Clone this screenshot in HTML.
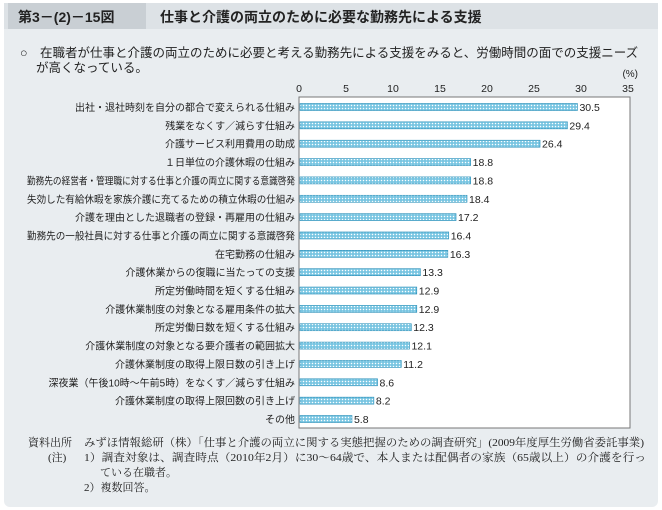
<!DOCTYPE html>
<html><head><meta charset="utf-8">
<style>
body{margin:0;width:662px;height:510px;background:#fff;font-family:"Liberation Sans","Noto Sans CJK JP",sans-serif;overflow:hidden}
svg{display:block}
</style></head><body>
<svg id="chart" width="662" height="510" font-family="Liberation Sans, Noto Sans CJK JP, sans-serif">
<rect x="4" y="3" width="654" height="504" rx="6" fill="#e9edf0"/>
<rect x="4" y="3" width="654" height="26" fill="#dde2e6"/>
<rect x="8" y="3" width="138" height="26" fill="#c9cfd4"/>
<text x="18" y="22" font-size="14" font-weight="bold" fill="#222">第3－(2)－15図</text>
<text x="160" y="22" font-size="14" font-weight="bold" fill="#222">仕事と介護の両立のために必要な勤務先による支援</text>
<text x="20" y="57" font-size="12.5" fill="#222">○　在職者が仕事と介護の両立のために必要と考える勤務先による支援をみると、労働時間の面での支援ニーズ</text>
<text x="36" y="72" font-size="12.5" fill="#222">が高くなっている。</text>
<text x="638" y="77" font-size="10" text-anchor="end" fill="#222">(%)</text>
<rect x="299" y="97" width="331" height="331" fill="#fff" stroke="#777" stroke-width="1"/>
<g id="ticks"></g>
<g id="bars"></g>
<g font-size="11" fill="#222" font-family="Liberation Serif, Noto Serif CJK SC, serif">
<text x="28" y="446">資料出所</text>
<text x="84" y="446" textLength="560" lengthAdjust="spacingAndGlyphs">みずほ情報総研（株）「仕事と介護の両立に関する実態把握のための調査研究」(2009年度厚生労働省委託事業)</text>
<text x="48" y="461">(注)</text>
<text x="84" y="461" textLength="562" lengthAdjust="spacingAndGlyphs">1）調査対象は、調査時点（2010年2月）に30～64歳で、本人または配偶者の家族（65歳以上）の介護を行っ</text>
<text x="100" y="476">ている在職者。</text>
<text x="84" y="491">2）複数回答。</text>
</g>
<defs>
<pattern id="dots" width="3" height="3" patternUnits="userSpaceOnUse">
<rect width="3" height="3" fill="#8fd0e8"/><rect width="1" height="1" fill="#fff"/><rect x="1.5" y="1.5" width="1" height="1" fill="#3aa3cc"/>
</pattern>
</defs>
</svg>
<script>
const categories=["出社・退社時刻を自分の都合で変えられる仕組み","残業をなくす／減らす仕組み","介護サービス利用費用の助成","１日単位の介護休暇の仕組み","勤務先の経営者・管理職に対する仕事と介護の両立に関する意識啓発","失効した有給休暇を家族介護に充てるための積立休暇の仕組み","介護を理由とした退職者の登録・再雇用の仕組み","勤務先の一般社員に対する仕事と介護の両立に関する意識啓発","在宅勤務の仕組み","介護休業からの復職に当たっての支援","所定労働時間を短くする仕組み","介護休業制度の対象となる雇用条件の拡大","所定労働日数を短くする仕組み","介護休業制度の対象となる要介護者の範囲拡大","介護休業制度の取得上限日数の引き上げ","深夜業（午後10時～午前5時）をなくす／減らす仕組み","介護休業制度の取得上限回数の引き上げ","その他"];
const values=[30.5,29.4,26.4,18.8,18.8,18.4,17.2,16.4,16.3,13.3,12.9,12.9,12.3,12.1,11.2,8.6,8.2,5.8];
const tickLabels=[0,5,10,15,20,25,30,35];
const NS="http://www.w3.org/2000/svg";
const x0=299;
function xScale(v){return x0+v*9.13;}
function tickX(v){return x0+v*(329/35);}
function yScale(i){return 107+i*(312/17);}
const tg=document.getElementById('ticks');
tickLabels.forEach(t=>{
 const e=document.createElementNS(NS,'text');
 e.setAttribute('x',tickX(t));e.setAttribute('y',92);e.setAttribute('text-anchor','middle');
 e.setAttribute('font-size','10.5');e.setAttribute('fill','#222');e.textContent=t;
 
 
 tg.appendChild(e);
});
const bg=document.getElementById('bars');
categories.forEach((c,i)=>{
 const y=yScale(i);
 const l=document.createElementNS(NS,'text');
 l.setAttribute('x',295);l.setAttribute('y',y+4);l.setAttribute('text-anchor','end');
 l.setAttribute('font-size','10');l.setAttribute('fill','#222');l.textContent=c;
 
 
 bg.appendChild(l);
 if(l.getComputedTextLength()>268){l.setAttribute('textLength',268);l.setAttribute('lengthAdjust','spacingAndGlyphs');}
 const r=document.createElementNS(NS,'rect');
 r.setAttribute('x',x0+1);r.setAttribute('y',y-3.5);r.setAttribute('width',xScale(values[i])-x0-1);r.setAttribute('height',7);
 r.setAttribute('fill','url(#dots)');r.setAttribute('stroke','#2a8fb8');r.setAttribute('stroke-width','0.6');
 
 
 bg.appendChild(r);
 const v=document.createElementNS(NS,'text');
 v.setAttribute('x',xScale(values[i])+2);v.setAttribute('y',y+4);
 v.setAttribute('font-size','10.5');v.setAttribute('fill','#222');v.textContent=values[i].toFixed(1);
 
 
 bg.appendChild(v);
});
</script>
</body></html>
